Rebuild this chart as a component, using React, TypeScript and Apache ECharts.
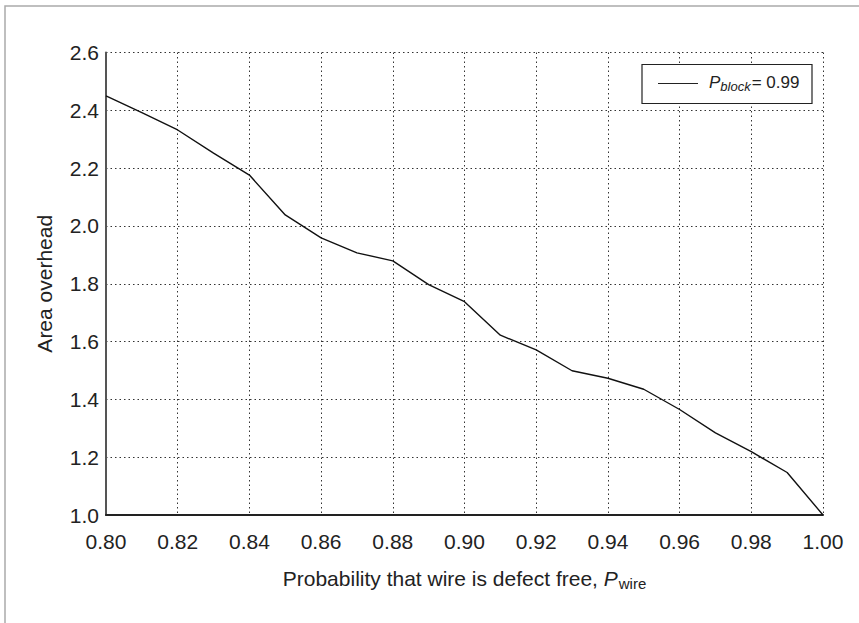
import React, { useEffect, useRef } from "react";
import * as echarts from "echarts";

const pWire = [0.8, 0.81, 0.82, 0.83, 0.84, 0.85, 0.86, 0.87, 0.88, 0.89, 0.9, 0.91, 0.92, 0.93, 0.94, 0.95, 0.96, 0.97, 0.98, 0.99, 1.0];
const areaOverhead = [2.45, 2.392, 2.332, 2.252, 2.176, 2.038, 1.959, 1.907, 1.879, 1.797, 1.738, 1.622, 1.571, 1.499, 1.473, 1.435, 1.365, 1.284, 1.219, 1.147, 1.0];
const seriesName = "P_block = 0.99";
const legendValue = "= 0.99";

const FONT = "'Liberation Sans', Arial, Helvetica, sans-serif";
const INK = "#222";

export default function App() {
  const ref = useRef<HTMLDivElement>(null);
  useEffect(() => {
    document.body.style.margin = "0";
    const chart = echarts.init(ref.current!, null, { renderer: "svg" });
    const data = pWire.map((x, i) => [x, areaOverhead[i]]);
    chart.setOption({
      animation: false,
      backgroundColor: "#fff",
      textStyle: { fontFamily: FONT },
      grid: { left: 106, right: 36, top: 52.5, bottom: 108, containLabel: false },
      xAxis: {
        type: "value",
        min: 0.8,
        max: 1.0,
        interval: 0.02,
        name: "Probability that wire is defect free, {i|P}{sub|wire}",
        nameLocation: "middle",
        nameGap: 51,
        nameTextStyle: {
          fontFamily: FONT,
          fontSize: 21,
          color: INK,
          rich: {
            i: { fontFamily: FONT, fontSize: 21, fontStyle: "italic", color: INK },
            sub: { fontFamily: FONT, fontSize: 15, color: INK, verticalAlign: "bottom", padding: [10, 0, 0, 1] },
          },
        },
        axisLine: { onZero: false, lineStyle: { color: INK, width: 2 } },
        axisTick: { show: false },
        axisLabel: {
          fontFamily: FONT,
          fontSize: 21,
          color: INK,
          margin: 16,
          formatter: (v: number) => v.toFixed(2),
        },
        splitLine: { show: true, lineStyle: { color: "#333", type: [1.5, 3], width: 1 } },
      },
      yAxis: {
        type: "value",
        min: 1.0,
        max: 2.6,
        interval: 0.2,
        name: "Area overhead",
        nameLocation: "middle",
        nameGap: 51,
        nameTextStyle: { fontFamily: FONT, fontSize: 21, color: INK },
        axisLine: { show: true, onZero: false, lineStyle: { color: "#555", width: 2 } },
        axisTick: { show: false },
        axisLabel: {
          fontFamily: FONT,
          fontSize: 21,
          color: INK,
          margin: 7,
          formatter: (v: number) => v.toFixed(1),
        },
        splitLine: { show: true, lineStyle: { color: "#333", type: [1.5, 3], width: 1 } },
      },
      series: [
        {
          name: seriesName,
          type: "line",
          data,
          symbol: "none",
          lineStyle: { color: "#111", width: 1.4 },
        },
      ],
      graphic: [
        {
          type: "rect",
          shape: { x: 5, y: 6, width: 900, height: 700 },
          style: { fill: "none", stroke: "#aaa", lineWidth: 1.5 },
          silent: true,
          z: -1,
        },
        {
          type: "rect",
          shape: { x: 642, y: 64.5, width: 170, height: 39 },
          style: { fill: "#fff", stroke: INK, lineWidth: 1.2 },
          z: 10,
        },
        {
          type: "line",
          shape: { x1: 658, y1: 83.5, x2: 698, y2: 83.5 },
          style: { stroke: INK, lineWidth: 1.2 },
          z: 11,
        },
        {
          type: "text",
          x: 709,
          y: 82,
          z: 11,
          style: {
            text: "{i|P}{sub|block}{n|" + legendValue + "}",
            verticalAlign: "middle",
            align: "left",
            rich: {
              i: { fontFamily: FONT, fontSize: 17, fontStyle: "italic", fill: INK },
              sub: { fontFamily: FONT, fontSize: 13, fontStyle: "italic", fill: INK, padding: [8, 1, 0, 0] },
              n: { fontFamily: FONT, fontSize: 17, fill: INK },
            },
          },
        },
      ],
    });
    return () => chart.dispose();
  }, []);
  return <div ref={ref} style={{ width: 859, height: 623 }} />;
}
